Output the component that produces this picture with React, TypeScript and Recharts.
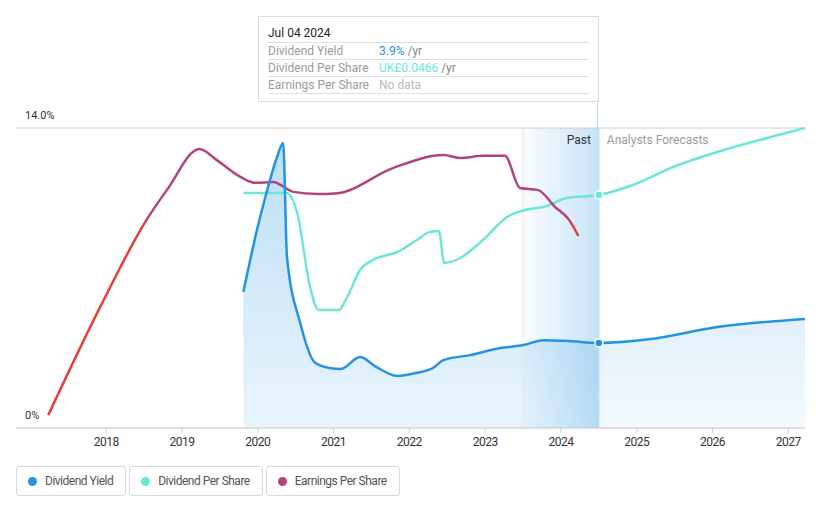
import {
  ComposedChart,
  Line,
  Area,
  XAxis,
  YAxis,
  CartesianGrid,
  ReferenceArea,
  ReferenceLine,
} from 'recharts'

// fractional years on the x axis
const yearTicks = [2018, 2019, 2020, 2021, 2022, 2023, 2024, 2025, 2026, 2027]
const xDomain = [2016.81, 2027.22]
const pastStart = 2023.5
const today = 2024.5

// y axis (Dividend Yield, %)
const yieldTicks = [0, 5, 10, 14]
const yieldLabels = [
  { value: 0, text: '0%' },
  { value: 14, text: '14.0%' },
]

// Dividend Yield (%)
const yieldDates = [
  2019.81, 2020.0, 2020.1, 2020.25, 2020.335, 2020.385, 2020.56, 2020.76, 2020.95, 2021.09,
  2021.35, 2021.55, 2021.84, 2022.1, 2022.31, 2022.45, 2022.8, 2023.2, 2023.5, 2023.77,
  2024.1, 2024.5, 2025.18, 2026.06, 2027.22,
]
const yieldValues = [
  6.35, 9.4, 10.78, 12.6, 13.3, 8.0, 4.9, 3.03, 2.8, 2.75,
  3.31, 2.88, 2.43, 2.58, 2.8, 3.17, 3.4, 3.73, 3.87, 4.1,
  4.06, 3.97, 4.15, 4.71, 5.09,
]

// Dividend Per Share (UK£)
const dpsDates = [
  2019.81, 2020.38, 2020.52, 2020.69, 2020.8, 2021.07, 2021.18, 2021.35, 2021.52, 2021.84,
  2022.1, 2022.27, 2022.39, 2022.46, 2022.67, 2022.97, 2023.29, 2023.59, 2023.77, 2024.08,
  2024.5, 2024.95, 2025.48, 2026.06, 2026.72, 2027.22,
]
const dpsValues = [
  0.047, 0.047, 0.043, 0.0282, 0.0236, 0.0236, 0.0262, 0.0316, 0.0336, 0.0352,
  0.0376, 0.0392, 0.0394, 0.033, 0.034, 0.0376, 0.0422, 0.0438, 0.0442, 0.046,
  0.0466, 0.0486, 0.0522, 0.0552, 0.058, 0.06,
]

// Earnings Per Share (UK£)
const epsDates = [
  2017.235, 2017.92, 2018.53, 2018.8, 2019.23, 2019.46, 2019.77, 2019.97, 2020.2, 2020.47,
  2020.78, 2021.05, 2021.79, 2022.45, 2022.67, 2022.97, 2023.26, 2023.46, 2023.7, 2023.92,
  2024.11, 2024.23,
]
const epsValues = [
  0.003, 0.0282, 0.0485, 0.0555, 0.0651, 0.0625, 0.0586, 0.0572, 0.0574, 0.0551,
  0.0546, 0.0548, 0.0607, 0.0637, 0.063, 0.0635, 0.0635, 0.056, 0.0555, 0.0516,
  0.0485, 0.0448,
]
// stretches of the EPS line drawn in red
const epsRedUntil = 2018.53
const epsRedFrom = 2024.11

const TOOLTIP_DATE = 'Jul 04 2024'
const TOOLTIP_YIELD = '3.9%'
const TOOLTIP_DPS = 'UK£0.0466'

const COLORS = {
  yield: '#2394e0',
  dps: '#6ce6d5',
  eps: '#b3437f',
  red: '#e2403b',
}

const yieldData = yieldDates.map((t, i) => ({ t, v: yieldValues[i] }))
const yieldPast = yieldData.filter((d) => d.t <= today)
const yieldFuture = yieldData.filter((d) => d.t >= today)
const dpsData = dpsDates.map((t, i) => ({ t, v: dpsValues[i] }))
const epsData = epsDates.map((t, i) => ({ t, v: epsValues[i] }))

const epsSpan = epsDates[epsDates.length - 1] - epsDates[0]
const epsRedEndOffset = (epsRedUntil - epsDates[0]) / epsSpan
const epsRedStartOffset = (epsRedFrom - epsDates[0]) / epsSpan

const FONT = 'Roboto, "Noto Sans", sans-serif'

function makeYLabel(text: string) {
  return (props: any) => {
    const { viewBox } = props
    return (
      <text
        x={viewBox.x + 9}
        y={viewBox.y - 12}
        dominantBaseline="middle"
        fontSize={11}
        fill="#333"
        fontFamily={FONT}
      >
        {text}
      </text>
    )
  }
}

function NowLabel(props: any) {
  const { viewBox } = props
  const x = viewBox.x
  const y = viewBox.y + 13
  return (
    <g fontFamily={FONT} fontSize={12}>
      <text x={x - 8} y={y} textAnchor="end" dominantBaseline="middle" fill="#333">
        Past
      </text>
      <text x={x + 8} y={y} textAnchor="start" dominantBaseline="middle" fill="#999">
        Analysts Forecasts
      </text>
    </g>
  )
}

function nowDot(color: string) {
  return (props: any) => {
    const { cx, cy, payload, index } = props
    if (payload.t !== today) return <g key={index} />
    return <circle key={index} cx={cx} cy={cy} r={4} fill={color} stroke="#fff" strokeWidth={1.5} />
  }
}

const LEGEND = [
  { label: 'Dividend Yield', color: COLORS.yield },
  { label: 'Dividend Per Share', color: COLORS.dps },
  { label: 'Earnings Per Share', color: COLORS.eps },
]

function TooltipBox() {
  const row = {
    display: 'flex',
    height: 17,
    boxSizing: 'border-box',
    alignItems: 'center',
    borderTop: '1px solid #e0e0e0',
  } as const
  const label = { width: 111, color: '#9a9a9a' }
  return (
    <div
      style={{
        position: 'absolute',
        left: 258,
        top: 16,
        width: 341,
        height: 86,
        boxSizing: 'border-box',
        border: '1px solid #dcdcdc',
        background: '#fff',
        padding: '8px 9px 0 9px',
        fontSize: 12,
        fontFamily: FONT,
      }}
    >
      <div style={{ height: 17, lineHeight: '17px', color: '#222' }}>{TOOLTIP_DATE}</div>
      <div style={row}>
        <span style={label}>Dividend Yield</span>
        <span style={{ color: COLORS.yield }}>{TOOLTIP_YIELD}</span>
        <span style={{ color: '#888' }}>&nbsp;/yr</span>
      </div>
      <div style={row}>
        <span style={label}>Dividend Per Share</span>
        <span style={{ color: COLORS.dps }}>{TOOLTIP_DPS}</span>
        <span style={{ color: '#888' }}>&nbsp;/yr</span>
      </div>
      <div style={{ ...row, height: 18, borderBottom: '1px solid #e0e0e0' }}>
        <span style={label}>Earnings Per Share</span>
        <span style={{ color: '#bbb' }}>No data</span>
      </div>
    </div>
  )
}

export default function App() {
  return (
    <div style={{ position: 'absolute', left: 0, top: 0, width: 821, height: 508, background: '#fff', fontFamily: FONT }}>
      <ComposedChart width={821} height={508} margin={{ top: 128, right: 16, bottom: 50, left: 16 }}>
        <defs>
          <linearGradient id="pastFill" x1="0" y1="0" x2="0" y2="1">
            <stop offset="0%" stopColor={COLORS.yield} stopOpacity={0.3} />
            <stop offset="100%" stopColor={COLORS.yield} stopOpacity={0.1} />
          </linearGradient>
          <linearGradient id="futureFill" x1="0" y1="0" x2="0" y2="1">
            <stop offset="0%" stopColor={COLORS.yield} stopOpacity={0.14} />
            <stop offset="100%" stopColor={COLORS.yield} stopOpacity={0.05} />
          </linearGradient>
          <linearGradient id="pastBand" x1="0" y1="0" x2="1" y2="0">
            <stop offset="0%" stopColor={COLORS.yield} stopOpacity={0.02} />
            <stop offset="100%" stopColor={COLORS.yield} stopOpacity={0.26} />
          </linearGradient>
          <linearGradient id="epsStroke" x1="0" y1="0" x2="1" y2="0">
            <stop offset={0} stopColor={COLORS.red} />
            <stop offset={epsRedEndOffset - 0.01} stopColor={COLORS.red} />
            <stop offset={epsRedEndOffset + 0.01} stopColor={COLORS.eps} />
            <stop offset={epsRedStartOffset - 0.005} stopColor={COLORS.eps} />
            <stop offset={epsRedStartOffset + 0.005} stopColor={COLORS.red} />
            <stop offset={1} stopColor={COLORS.red} />
          </linearGradient>
        </defs>

        <CartesianGrid yAxisId="yield" vertical={false} stroke="#e6e6e6" />

        <XAxis
          dataKey="t"
          type="number"
          domain={xDomain}
          ticks={yearTicks}
          allowDataOverflow
          height={30}
          tickFormatter={(v) => String(v)}
          tick={{ fontSize: 12, fill: '#333', fontFamily: FONT, letterSpacing: -0.5 }}
          axisLine={{ stroke: '#cfcfcf' }}
          tickLine={{ stroke: '#cfcfcf' }}
          tickSize={5}
          tickMargin={4}
        />
        <YAxis
          yAxisId="yield"
          width={0}
          domain={[0, 14]}
          ticks={yieldTicks}
          axisLine={false}
          tickLine={false}
          tick={false}
        />
        <YAxis yAxisId="dps" hide domain={[0, 0.06]} />
        <YAxis yAxisId="eps" hide domain={[0, 0.07]} />

        {yieldLabels.map(({ value, text }) => (
          <ReferenceLine
            key={value}
            yAxisId="yield"
            y={value}
            stroke={value === 0 ? 'none' : '#dadada'}
            label={makeYLabel(text)}
          />
        ))}

        <ReferenceArea yAxisId="yield" x1={pastStart} x2={today} fill="url(#pastBand)" fillOpacity={1} stroke="none" />
        <ReferenceLine yAxisId="yield" x={pastStart} stroke="#dbeaf7" />

        <Area
          yAxisId="yield"
          data={yieldPast}
          dataKey="v"
          type="monotone"
          stroke="none"
          fill="url(#pastFill)"
          fillOpacity={1}
          isAnimationActive={false}
        />
        <Area
          yAxisId="yield"
          data={yieldFuture}
          dataKey="v"
          type="monotone"
          stroke="none"
          fill="url(#futureFill)"
          fillOpacity={1}
          isAnimationActive={false}
        />

        <ReferenceLine yAxisId="yield" x={today} stroke="#b9daf4" label={<NowLabel />} />

        <Line
          yAxisId="dps"
          data={dpsData}
          dataKey="v"
          type="monotone"
          stroke={COLORS.dps}
          strokeWidth={2.5}
          dot={nowDot(COLORS.dps)}
          activeDot={false}
          isAnimationActive={false}
        />
        <Line
          yAxisId="eps"
          data={epsData}
          dataKey="v"
          type="monotone"
          stroke="url(#epsStroke)"
          strokeWidth={2.5}
          dot={false}
          activeDot={false}
          isAnimationActive={false}
        />
        <Line
          yAxisId="yield"
          data={yieldData}
          dataKey="v"
          type="monotone"
          stroke={COLORS.yield}
          strokeWidth={2.5}
          dot={nowDot(COLORS.yield)}
          activeDot={false}
          isAnimationActive={false}
        />
      </ComposedChart>

      {/* tooltip for the current date, with its connector down to the chart */}
      <TooltipBox />
      <div style={{ position: 'absolute', left: 597, top: 102, width: 1, height: 26, background: '#b9daf4' }} />

      {/* Legend */}
      <div style={{ position: 'absolute', left: 16, top: 466, display: 'flex', gap: 3 }}>
        {LEGEND.map(({ label, color }) => (
          <div
            key={label}
            style={{
              display: 'flex',
              alignItems: 'center',
              gap: 8,
              height: 30,
              boxSizing: 'border-box',
              padding: '0 12px 0 11px',
              border: '1px solid #d9d9d9',
              borderRadius: 3,
              fontSize: 12,
              letterSpacing: -0.5,
              color: '#555',
            }}
          >
            <span style={{ width: 9, height: 9, borderRadius: '50%', background: color, display: 'inline-block' }} />
            <span>{label}</span>
          </div>
        ))}
      </div>
    </div>
  )
}
